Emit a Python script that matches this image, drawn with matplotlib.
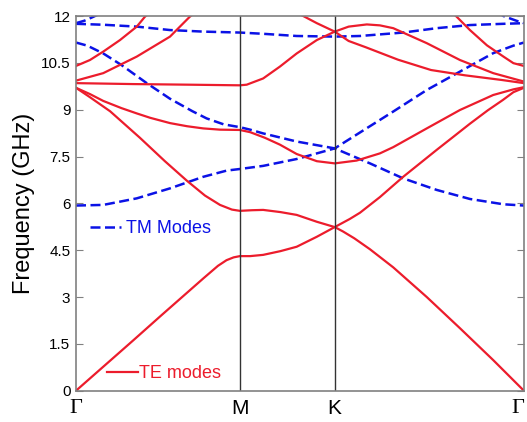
import matplotlib
matplotlib.use('Agg')
import matplotlib.pyplot as plt

# path Gamma - M - K - Gamma (hexagonal lattice, units of 2pi/a)
k_points = [0.0, 0.5774, 0.9107, 1.5774]
k_labels = ['Γ', 'M', 'K', 'Γ']

yticks = [0, 1.5, 3, 4.5, 6, 7.5, 9, 10.5, 12]
ytick_labels = ['0', '1.5', '3', '4.5', '6', '7.5', '9', '10.5', '12']

# TE bands (red, solid), frequency in GHz
te1_k = [0, 0.10, 0.20, 0.30, 0.40, 0.45, 0.50, 0.53, 0.555, 0.577, 0.613, 0.659, 0.72, 0.777, 0.848, 0.911,
         0.94, 0.98, 1.035, 1.117, 1.235, 1.352, 1.469, 1.577]
te1_f = [0, 0.80, 1.60, 2.41, 3.21, 3.61, 4.0, 4.18, 4.27, 4.31, 4.31, 4.35, 4.47, 4.61, 4.93, 5.24,
         5.1, 4.88, 4.53, 3.95, 3.0, 2.0, 0.98, 0]

te2_k = [0, 0.049, 0.12, 0.225, 0.313, 0.391, 0.454, 0.507, 0.549, 0.577, 0.62, 0.659, 0.72, 0.777, 0.848, 0.911,
         0.964, 1.0, 1.035, 1.070, 1.152, 1.271, 1.327, 1.387, 1.45, 1.503, 1.54, 1.577]
te2_f = [9.7, 9.4, 8.95, 8.1, 7.35, 6.72, 6.25, 5.95, 5.8, 5.76, 5.78, 5.79, 5.72, 5.63, 5.41, 5.24,
         5.5, 5.7, 5.95, 6.2, 6.85, 7.72, 8.12, 8.55, 8.98, 9.31, 9.56, 9.7]

te3_k = [0, 0.049, 0.096, 0.16, 0.214, 0.261, 0.331, 0.391, 0.448, 0.507, 0.577, 0.613, 0.665, 0.718, 0.777, 0.848,
         0.911, 0.988, 1.070, 1.117, 1.235, 1.352, 1.469, 1.54, 1.577]
te3_f = [9.7, 9.5, 9.28, 9.05, 8.88, 8.74, 8.57, 8.47, 8.4, 8.36, 8.35, 8.28, 8.1, 7.88, 7.58, 7.35,
         7.28, 7.37, 7.6, 7.8, 8.4, 8.99, 9.47, 9.65, 9.72]

te4_k = [0, 0.2, 0.4, 0.577, 0.601, 0.659, 0.718, 0.777, 0.848, 0.911, 0.96, 1.024, 1.07, 1.117, 1.235, 1.352,
         1.469, 1.577]
te4_f = [9.85, 9.82, 9.8, 9.78, 9.8, 10.0, 10.38, 10.8, 11.23, 11.5, 11.66, 11.73, 11.7, 11.61, 11.13, 10.59,
         10.17, 9.9]

te5_k = [0, 0.096, 0.214, 0.331, 0.401, 0.45, 0.577, 0.70, 0.80, 0.848, 0.911, 0.96, 1.02, 1.134, 1.25, 1.37,
         1.50, 1.577]
te5_f = [9.93, 10.17, 10.7, 11.34, 11.98, 12.3, 12.9, 12.45, 12.0, 11.77, 11.5, 11.2, 11.0, 10.6, 10.27, 10.1,
         9.95, 9.85]

te6a_k = [0, 0.049, 0.096, 0.155, 0.214, 0.243, 0.30]
te6a_f = [10.4, 10.59, 10.86, 11.23, 11.66, 11.98, 12.4]

te6b_k = [1.30, 1.34, 1.387, 1.447, 1.505, 1.54, 1.577]
te6b_f = [12.3, 11.98, 11.55, 11.06, 10.7, 10.49, 10.4]

# TM bands (blue, dashed)
tm1_k = [0, 0.096, 0.214, 0.331, 0.448, 0.531, 0.577, 0.659, 0.777, 0.848, 0.911, 1.0, 1.117, 1.235, 1.352,
         1.469, 1.54, 1.577]
tm1_f = [5.93, 5.95, 6.16, 6.48, 6.85, 7.05, 7.1, 7.2, 7.42, 7.6, 7.76, 8.27, 8.94, 9.63, 10.22,
         10.81, 11.05, 11.15]

tm2_k = [0, 0.04, 0.096, 0.16, 0.249, 0.331, 0.41, 0.46, 0.52, 0.577, 0.613, 0.659, 0.777, 0.911, 1.035, 1.152,
         1.27, 1.387, 1.505, 1.577]
tm2_f = [11.15, 11.05, 10.8, 10.43, 9.85, 9.35, 8.95, 8.72, 8.53, 8.44, 8.36, 8.24, 7.98, 7.76, 7.28, 6.8,
         6.43, 6.14, 5.97, 5.93]

tm3_k = [0, 0.096, 0.214, 0.331, 0.448, 0.577, 0.659, 0.777, 0.911, 1.0, 1.152, 1.27, 1.387, 1.505, 1.577]
tm3_f = [11.75, 11.72, 11.66, 11.55, 11.5, 11.47, 11.43, 11.36, 11.34, 11.36, 11.47, 11.61, 11.71, 11.75, 11.77]

tm4a_k = [0, 0.03, 0.055, 0.074, 0.10]
tm4a_f = [11.77, 11.85, 11.95, 12.03, 12.2]

tm4b_k = [1.48, 1.505, 1.52, 1.55, 1.577]
tm4b_f = [12.15, 12.0, 11.95, 11.85, 11.77]

te_bands = [(te1_k, te1_f), (te2_k, te2_f), (te3_k, te3_f), (te4_k, te4_f), (te5_k, te5_f),
            (te6a_k, te6a_f), (te6b_k, te6b_f)]
tm_bands = [(tm1_k, tm1_f), (tm2_k, tm2_f), (tm3_k, tm3_f), (tm4a_k, tm4a_f), (tm4b_k, tm4b_f)]

red = '#ec1c2c'
blue = '#0b12e6'

fig = plt.figure(figsize=(5.27, 4.22), dpi=100)
ax = fig.add_axes([76 / 527, 31.3 / 422, 448 / 527, 374.7 / 422])

for k, f in tm_bands:
    tm_line, = ax.plot(k, f, color=blue, lw=1.8, dashes=(4, 1.8))
for k, f in te_bands:
    te_line, = ax.plot(k, f, color=red, lw=1.6)

# vertical lines at M and K
for kp in k_points[1:3]:
    ax.axvline(kp, color='#333333', lw=1.0)

ax.set_xlim(k_points[0], k_points[-1])
ax.set_ylim(0, 12)
ax.set_yticks(yticks)
ax.set_yticklabels(ytick_labels, fontsize=11, family='Liberation Sans')
ax.set_xticks(k_points)
ax.set_xticklabels(k_labels, fontsize=15, family='Liberation Sans')
xlabs = ax.get_xticklabels()
for lab in xlabs:
    if lab.get_text() == 'Γ':
        lab.set_family('Liberation Serif')
        lab.set_fontsize(16)
xlabs[-1].set_horizontalalignment('right')
ax.tick_params(axis='y', direction='in', length=5, color='#808080', right=True, pad=4)
ax.tick_params(axis='x', length=0, pad=6)
for sp in ax.spines.values():
    sp.set_color('#808080')
    sp.set_linewidth(1.2)

ax.set_ylabel('Frequency (GHz)', fontsize=17, family='Liberation Sans', labelpad=4)

leg_tm = ax.legend([tm_line], ['TM Modes'], loc='center left', bbox_to_anchor=(0.031, 0.4316),
                   frameon=False, borderpad=0, borderaxespad=0, handlelength=1.7, handletextpad=0.3,
                   labelcolor='linecolor', prop={'family': 'Liberation Sans', 'size': 13})
ax.add_artist(leg_tm)
ax.legend([te_line], ['TE modes'], loc='center left', bbox_to_anchor=(0.069, 0.0446),
          frameon=False, borderpad=0, borderaxespad=0, handlelength=1.7, handletextpad=0.1,
          labelcolor='linecolor', prop={'family': 'Liberation Sans', 'size': 13})

fig.savefig('out.png', dpi=100)
